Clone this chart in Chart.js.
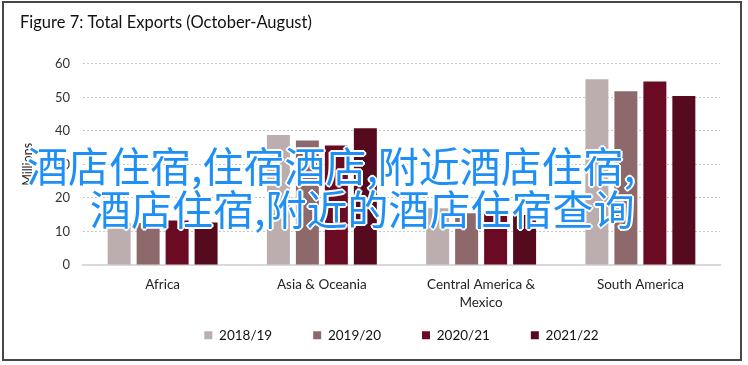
<!DOCTYPE html>
<html>
<head>
<meta charset="utf-8">
<script src="https://cdn.jsdelivr.net/npm/chart.js@4.4.1/dist/chart.umd.min.js"></script>
<style>
  html, body { margin: 0; padding: 0; background: #fff; }
  #wrap { position: relative; width: 748px; height: 365px; overflow: hidden; background: #fff; }
  #c { position: absolute; left: 0; top: 0; }
  #frame { position: absolute; left: 2px; top: 1px; width: 740px; height: 360px; box-sizing: border-box; border: 2px solid #474747; pointer-events: none; }
  .wm { position: absolute; font-family: "Noto Sans CJK SC", sans-serif; font-size: 41px; line-height: 1; color: #1e8ff5; white-space: nowrap;
        text-shadow: 1px 1px 0 #fff, -1px -1px 0 #fff, 1px -1px 0 #fff, -1px 1px 0 #fff, 0 2px 0 #fff, 2px 0 0 #fff, 0 -2px 0 #fff, -2px 0 0 #fff; }
</style>
</head>
<body>
<div id="wrap">
  <canvas id="c" width="748" height="365"></canvas>
  <div id="frame"></div>
  <div class="wm" style="left:27px; top:144px;">酒店住宿,住宿酒店,附近酒店住宿,</div>
  <div class="wm" style="left:90px; top:187px;">酒店住宿,附近的酒店住宿查询</div>
</div>
<script>
const categories = ["Africa", "Asia & Oceania", ["Central America &", "Mexico"], "South America"];
const seriesNames = ["2018/19", "2019/20", "2020/21", "2021/22"];
const values2018_19 = [12.5, 38.8, 16.9, 55.4];
const values2019_20 = [12.5, 37.1, 15.4, 51.8];
const values2020_21 = [13.3, 35.6, 15.7, 54.7];
const values2021_22 = [12.7, 40.8, 14.9, 50.4];
const yTicks = [0, 10, 20, 30, 40, 50, 60];
const colors = ["#bcaeae", "#8d696c", "#6a0a23", "#550a1e"];

const FONT = "Lato, 'Liberation Sans', sans-serif";
const seriesValues = [values2018_19, values2019_20, values2020_21, values2021_22];

// keep the x-axis labels unclipped while the axis box stays compact in the layout
const xLabelRoom = {
  id: "xLabelRoom",
  afterLayout(chart) {
    const s = chart.scales.x;
    s.bottom = s.top + 60;
    s.height = 60;
  }
};

new Chart(document.getElementById("c"), {
  type: "bar",
  data: {
    labels: categories,
    datasets: seriesNames.map((name, i) => ({
      label: name,
      data: seriesValues[i],
      backgroundColor: colors[i],
      borderWidth: 0,
      categoryPercentage: 0.728,
      barPercentage: 0.793
    }))
  },
  plugins: [xLabelRoom],
  options: {
    responsive: false,
    animation: false,
    devicePixelRatio: 1,
    layout: { padding: { left: 20, right: 28, top: 0, bottom: 13 } },
    plugins: {
      title: {
        display: true,
        text: "Figure 7: Total Exports (October-August)",
        align: "start",
        color: "#111111",
        font: { family: FONT, size: 16.5, weight: "normal" },
        padding: { top: 13, bottom: 31 }
      },
      legend: {
        position: "bottom",
        fullSize: false,
        labels: {
          boxWidth: 8,
          boxHeight: 8,
          padding: 41,
          color: "#111111",
          font: { family: FONT, size: 13.5 }
        }
      },
      tooltip: { enabled: false }
    },
    scales: {
      x: {
        grid: { display: false, drawTicks: false },
        border: { display: true, color: "#d9d9d9", width: 2 },
        ticks: { color: "#1f1f1f", font: { family: FONT, size: 13.5, lineHeight: 1.33 }, padding: 11, maxRotation: 0, autoSkip: false },
        afterFit: (s) => { s.height = 22.5; }
      },
      y: {
        min: 0,
        max: 60,
        afterBuildTicks: (s) => { s.ticks = yTicks.map(v => ({ value: v })); },
        ticks: { color: "#333333", font: { family: FONT, size: 13 }, padding: 13 },
        grid: {
          drawTicks: false,
          color: (ctx) => ctx.tick && ctx.tick.value === 0 ? "rgba(0,0,0,0)" : "#c9c9c9",
          lineWidth: 1
        },
        border: { display: false, dash: [2, 2] },
        title: { display: true, text: "Millions", color: "#1f1f1f", font: { family: FONT, size: 12.5 }, padding: { top: 0, bottom: 0 } },
        afterFit: (s) => { s.width = 63; }
      }
    }
  }
});
</script>
</body>
</html>
